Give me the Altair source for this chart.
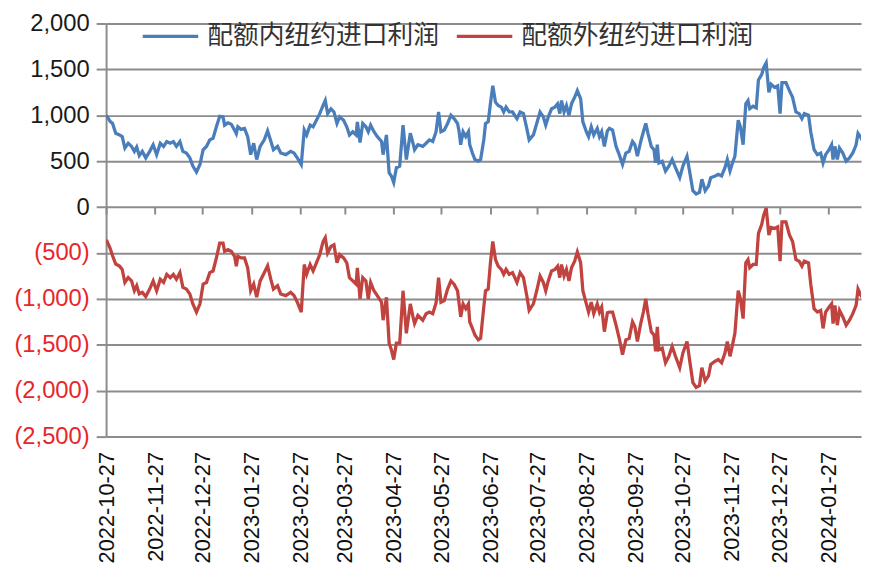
import altair as alt
import pandas as pd

SERIES_NAMES = ["配额内纽约进口利润", "配额外纽约进口利润"]
SERIES_COLORS = ["#4a7ebb", "#c0433f"]
START_DATE = "2022-10-27"

# days after START_DATE
DAY_OFFSETS = [
    0.2, 2.5, 4.1, 6.1, 8.5, 10.2, 11.9, 14.0, 16.1, 17.9, 19.4, 21.0, 22.9, 25.1, 27.6, 29.8,
    32.0, 34.3, 36.4, 38.4, 40.6, 42.6, 44.5, 46.7, 48.6, 50.8, 53.0, 54.9, 57.2, 59.4, 61.4,
    63.5, 65.6, 67.7, 69.8, 71.9, 74.0, 75.0, 77.1, 79.2, 81.3, 82.4, 83.4, 85.4, 87.6, 89.6,
    91.5, 93.4, 95.3, 97.5, 100.1, 102.2, 104.3, 105.9, 108.5, 110.5, 113.7, 116.8, 118.9,
    121.0, 123.5, 125.4, 126.9, 129.1, 131.0, 133.1, 135.2, 137.3, 138.7, 140.2, 142.3, 144.2,
    146.1, 147.8, 150.3, 152.3, 154.0, 156.1, 158.2, 159.0, 160.7, 162.4, 164.4, 165.9, 167.4,
    169.5, 171.6, 174.3, 175.3, 177.4, 179.1, 180.5, 182.0, 183.7, 185.8, 187.9, 190.0, 192.5,
    194.2, 195.2, 197.3, 200.4, 202.5, 204.6, 206.7, 208.8, 210.4, 211.9, 214.0, 216.1, 218.2,
    220.2, 222.4, 223.4, 224.4, 225.9, 227.6, 229.3, 230.1, 231.8, 233.4, 235.5, 237.0, 239.0,
    240.1, 241.8, 243.2, 244.7, 246.4, 248.1, 250.1, 251.6, 253.1, 255.1, 257.2, 260.0, 262.0,
    264.1, 266.2, 267.7, 270.4, 272.5, 274.6, 276.7, 278.2, 279.8, 281.9, 284.0, 285.7, 287.1,
    288.2, 289.8, 291.3, 292.9, 294.5, 296.5, 298.2, 300.3, 301.7, 303.9, 305.3, 307.0, 308.6,
    310.8, 312.2, 313.6, 315.3, 317.2, 318.5, 320.5, 322.7, 324.7, 326.8, 328.9, 331.0, 333.1,
    334.6, 336.2, 338.3, 340.0, 341.5, 342.9, 345.0, 346.7, 347.7, 348.8, 349.8, 351.9, 354.0,
    356.1, 358.2, 360.3, 363.0, 365.0, 367.6, 369.2, 371.3, 373.4, 375.5, 377.0, 379.1, 381.2,
    382.6, 385.4, 387.4, 389.5, 391.6, 393.1, 394.8, 396.4, 397.9, 400.0, 401.4, 403.1, 404.8,
    406.2, 407.3, 409.4, 411.4, 412.8, 414.9, 416.1, 417.7, 419.4, 420.8, 423.0, 425.0, 426.5,
    427.7, 430.2, 432.4, 434.4, 436.5, 438.6, 440.3, 441.8, 444.5, 445.9, 448.0, 450.1, 452.2,
    453.7, 455.3, 457.5, 459.1, 460.0, 461.2, 462.7, 464.1, 466.2, 468.3, 470.4, 472.5, 474.6,
    475.8, 477.2, 478.9,
]

IN_QUOTA = [
    1000, 935, 911, 804, 786, 768, 643, 696, 661, 607, 654, 561, 607, 536, 607, 679,
    571, 696, 661, 714, 696, 714, 661, 714, 607, 589, 536, 446, 382, 464, 625,
    661, 732, 750, 875, 989, 982, 893, 918, 903, 839, 800, 875, 846, 857, 768,
    571, 696, 518, 661, 732, 830, 714, 625, 661, 589, 571, 607, 589,
    536, 464, 839, 786, 893, 875, 946, 1018, 1107, 1161, 1018, 1071, 1036,
    911, 982, 946, 875, 786, 821, 786, 928, 704, 911, 875, 821, 893,
    821, 768, 714, 571, 786, 375, 339, 268, 429, 446, 893, 518, 804,
    696, 625, 679, 661, 696, 732, 714, 821, 1036, 821, 839, 911, 1000,
    964, 911, 821, 679, 821, 768, 821, 679, 589, 518, 500, 518, 732,
    911, 929, 1125, 1321, 1143, 1107, 1089, 1036, 1089, 1036, 1036, 964, 1036,
    1018, 857, 732, 786, 911, 1036, 982, 893, 982, 1071, 1089, 1125, 1018,
    1161, 1036, 1107, 1000, 1125, 1196, 1268, 1179, 929, 821, 768, 875, 786,
    857, 768, 821, 661, 830, 857, 839, 661, 571, 464, 589, 607, 714,
    679, 554, 714, 821, 911, 804, 661, 625, 482, 679, 482, 500, 393,
    446, 518, 429, 321, 446, 554, 393, 179, 143, 161, 304, 179, 232,
    321, 339, 357, 339, 429, 518, 393, 482, 554, 946, 875, 679, 1125,
    1161, 1071, 1098, 1080, 1385, 1447, 1518, 1571, 1250, 1339, 1304, 1321, 1018,
    1357, 1357, 1268, 1196, 1036, 1018, 964, 1018, 1000, 821, 625, 571, 589,
    482, 571, 625, 679, 518, 661, 518, 643, 589, 500, 536, 589, 679,
    804, 768, 714,
]

OUT_QUOTA = [
    -357, -446, -530, -620, -643, -679, -821, -768, -804, -911, -857, -946, -929, -975, -893, -804,
    -911, -786, -821, -732, -768, -732, -786, -714, -875, -893, -946, -1054, -1143, -1054, -839,
    -821, -714, -696, -554, -393, -393, -482, -464, -482, -536, -643, -536, -554, -554, -661,
    -911, -839, -982, -804, -714, -640, -790, -893, -857, -946, -964, -929, -964,
    -1036, -1143, -625, -732, -625, -696, -607, -518, -375, -332, -500, -429, -411,
    -607, -518, -554, -607, -768, -804, -839, -661, -1000, -768, -804, -1000, -821,
    -911, -964, -1036, -1232, -982, -1482, -1554, -1661, -1482, -1482, -911, -1375, -1054,
    -1196, -1268, -1179, -1232, -1161, -1143, -1161, -1045, -768, -1036, -1018, -893, -804,
    -839, -911, -1054, -1196, -1054, -1107, -1054, -1250, -1321, -1393, -1446, -1429, -1089,
    -911, -893, -607, -375, -571, -643, -679, -732, -679, -732, -714, -821, -714,
    -768, -964, -1125, -1054, -911, -750, -821, -911, -804, -696, -679, -643, -768,
    -625, -750, -679, -804, -661, -589, -489, -607, -911, -1054, -1143, -1036, -1161,
    -1054, -1143, -1089, -1357, -1150, -1143, -1143, -1286, -1429, -1607, -1446, -1429, -1250,
    -1304, -1464, -1268, -1143, -1000, -1161, -1357, -1393, -1571, -1304, -1554, -1536, -1696,
    -1625, -1518, -1625, -1750, -1589, -1464, -1661, -1911, -1964, -1946, -1750, -1893, -1839,
    -1714, -1679, -1661, -1696, -1589, -1464, -1625, -1500, -1375, -911, -1000, -1214, -607,
    -571, -661, -625, -625, -286, -188, -89, -11, -304, -223, -232, -214, -589,
    -161, -161, -304, -375, -571, -589, -643, -589, -607, -839, -1107, -1143, -1125,
    -1321, -1143, -1089, -1054, -1268, -1071, -1286, -1125, -1196, -1286, -1232, -1161, -1071,
    -893, -946, -1000,
]

TICK_DATES = [
    "2022-10-27", "2022-11-27", "2022-12-27", "2023-01-27", "2023-02-27", "2023-03-27",
    "2023-04-27", "2023-05-27", "2023-06-27", "2023-07-27", "2023-08-27", "2023-09-27",
    "2023-10-27", "2023-11-27", "2023-12-27", "2024-01-27",
]
Y_MIN, Y_MAX = -2500, 2000
Y_TICKS = [-2500, -2000, -1500, -1000, -500, 0, 500, 1000, 1500, 2000]
X_END = "2024-02-16T17:00:00"

dates = pd.Timestamp(START_DATE) + pd.to_timedelta(DAY_OFFSETS, unit="D")
df = pd.concat([
    pd.DataFrame({"date": dates, "value": IN_QUOTA, "series": SERIES_NAMES[0]}),
    pd.DataFrame({"date": dates, "value": OUT_QUOTA, "series": SERIES_NAMES[1]}),
])


def to_dt(s):
    t = pd.Timestamp(s)
    return alt.DateTime(year=t.year, month=t.month, date=t.day, hours=t.hour)


tick_vals = [to_dt(s) for s in TICK_DATES]
x_scale = alt.Scale(domain=[to_dt(START_DATE), to_dt(X_END)], nice=False)
y_scale = alt.Scale(domain=[Y_MIN, Y_MAX], nice=False, zero=False)

W, H = 762, 417
GRID = "#8c8c8c"
zero_offset = -H * (0 - Y_MIN) / (Y_MAX - Y_MIN)

y_axis = alt.Axis(
    values=Y_TICKS, title=None, grid=True, gridColor=GRID, gridWidth=2,
    domain=True, domainColor=GRID, domainWidth=2,
    ticks=True, tickSize=10, tickColor=GRID, tickWidth=2,
    labelFont="Liberation Sans", labelFontSize=24, labelPadding=7,
    labelExpr="datum.value < 0 ? '(' + format(-datum.value, ',') + ')' : format(datum.value, ',')",
    labelColor={"condition": {"test": "datum.value < 0", "value": "#e8262a"}, "value": "#1a1a1a"},
)

lines = alt.Chart(df).mark_line(strokeWidth=3.3, clip=True).encode(
    x=alt.X("date:T", scale=x_scale, axis=alt.Axis(
        orient="bottom", offset=zero_offset, values=tick_vals, labels=False,
        ticks=True, tickSize=7, tickWidth=2, tickColor=GRID, domain=False, grid=False, title=None)),
    y=alt.Y("value:Q", scale=y_scale, axis=y_axis),
    color=alt.Color("series:N", scale=alt.Scale(domain=SERIES_NAMES, range=SERIES_COLORS),
                    legend=alt.Legend(
                        title=None, orient="none", legendX=35, legendY=-17, direction="horizontal",
                        symbolType="stroke", symbolSize=3136, symbolStrokeWidth=3.3,
                        labelFont="Noto Sans CJK SC", labelFontSize=26, labelColor="#333333",
                        labelLimit=400, labelOffset=7, columnPadding=10, padding=0)),
    detail="series:N",
)

labels = alt.Chart(df).mark_line(opacity=0).encode(
    x=alt.X("date:T", scale=x_scale, axis=alt.Axis(
        orient="bottom", values=tick_vals, format="%Y-%m-%d", labelAngle=270,
        labelFont="Liberation Sans", labelFontSize=22, labelColor="#111111", labelPadding=15,
        labelOverlap=False, labelFlush=False, ticks=False, domain=False, grid=False, title=None)),
    y=alt.Y("value:Q", scale=y_scale, axis=y_axis),
    detail="series:N",
)

chart = alt.layer(lines, labels).resolve_axis(x="independent").properties(
    width=W, height=H,
    autosize=alt.AutoSizeParams(type="none"),
    padding={"left": 99, "top": 13, "right": 2, "bottom": 132},
).configure_view(stroke=None)

chart.save("out.html", embed_options={"renderer": "svg", "actions": False})
